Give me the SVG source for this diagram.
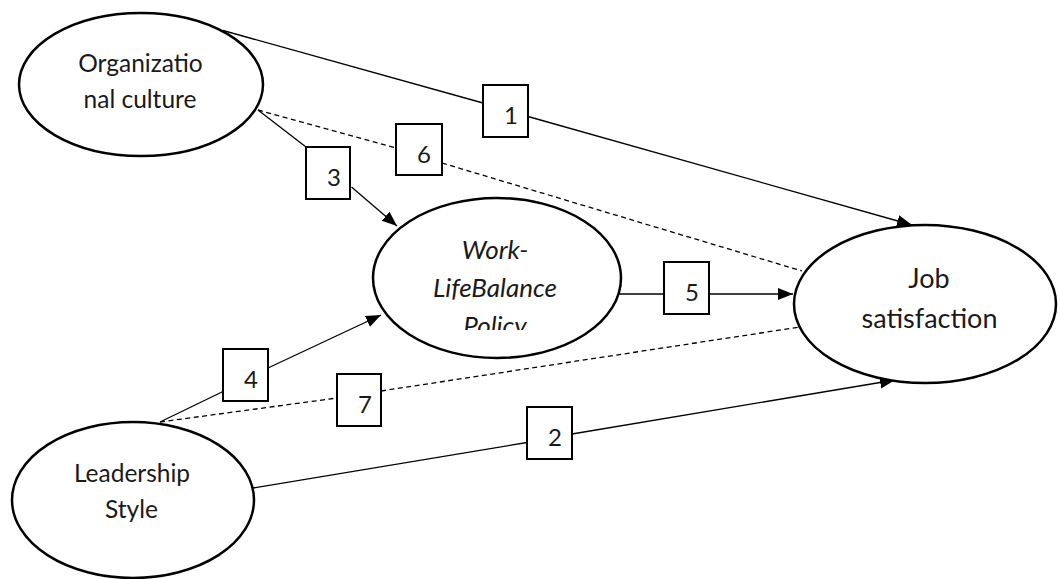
<svg xmlns="http://www.w3.org/2000/svg" width="1058" height="579" viewBox="0 0 1058 579">
<style>
.node{fill:#fff;stroke:#000;stroke-width:2.5}
.lbl{font-family:Lato,"Open Sans",sans-serif;font-size:24.5px;fill:#1a1a1a;text-anchor:middle}
.box{fill:#fff;stroke:#000;stroke-width:2}
.num{font-family:Lato,"Open Sans",sans-serif;font-size:24px;fill:#1a1a1a;text-anchor:middle}
.ln{stroke:#000;stroke-width:1.3;fill:none}
.dash{stroke:#000;stroke-width:1.3;fill:none;stroke-dasharray:5 3.5}
</style>
<defs>
<marker id="arr" markerUnits="userSpaceOnUse" markerWidth="16" markerHeight="14" refX="15" refY="6" orient="auto">
<path d="M0,0 L15,6 L0,12 Z" fill="#000"/>
</marker>
<clipPath id="wclip"><rect x="372" y="200" width="250" height="130"/></clipPath>
</defs>
<g id="connectors">
<line class="ln" x1="223" y1="30.5" x2="483" y2="103"/>
<line class="ln" x1="528" y1="116.5" x2="912" y2="225" marker-end="url(#arr)"/>
<line class="ln" x1="258" y1="110" x2="306" y2="147"/>
<line class="ln" x1="351.5" y1="187" x2="397" y2="226" marker-end="url(#arr)"/>
<line class="dash" x1="258" y1="110" x2="396" y2="148"/>
<line class="dash" x1="442" y1="163" x2="802" y2="271"/>
<line class="ln" x1="619" y1="294" x2="664" y2="294"/>
<line class="ln" x1="709" y1="294" x2="793" y2="294" marker-end="url(#arr)"/>
<line class="ln" x1="160" y1="422" x2="223" y2="391.5"/>
<line class="ln" x1="268" y1="368" x2="381" y2="315" marker-end="url(#arr)"/>
<line class="dash" x1="160" y1="422" x2="337" y2="398"/>
<line class="dash" x1="381" y1="391" x2="800" y2="327"/>
<line class="ln" x1="253" y1="488" x2="527" y2="442.5"/>
<line class="ln" x1="572" y1="434" x2="895" y2="380" marker-end="url(#arr)"/>
</g>
<g id="n-org">
<ellipse class="node" cx="141" cy="84.5" rx="122" ry="71.5"/>
<text class="lbl" x="140.5" y="72">Organizatio</text>
<text class="lbl" x="140" y="108">nal culture</text>
</g>
<g id="n-wlb">
<ellipse class="node" cx="497" cy="278" rx="124" ry="80"/>
<g clip-path="url(#wclip)">
<text class="lbl" x="495" y="259" font-style="italic" style="font-size:26px">Work-</text>
<text class="lbl" x="495" y="297" font-style="italic" style="font-size:26px">LifeBalance</text>
<text class="lbl" x="495" y="335" font-style="italic" style="font-size:26px">Policy</text>
</g>
</g>
<g id="n-job">
<ellipse class="node" cx="925" cy="304" rx="131" ry="79"/>
<text class="lbl" x="929" y="288" style="font-size:27px">Job</text>
<text class="lbl" x="929.5" y="328" style="font-size:27px">satisfaction</text>
</g>
<g id="n-lead">
<ellipse class="node" cx="133" cy="500" rx="121" ry="78"/>
<text class="lbl" x="132" y="482">Leadership</text>
<text class="lbl" x="131.5" y="518">Style</text>
</g>
<g id="b1"><rect class="box" x="483" y="85" width="45" height="52"/><text class="num" x="511" y="124">1</text></g>
<g id="b2"><rect class="box" x="527" y="407" width="45" height="52"/><text class="num" x="555" y="446">2</text></g>
<g id="b3"><rect class="box" x="306" y="147" width="44" height="52"/><text class="num" x="334" y="186">3</text></g>
<g id="b4"><rect class="box" x="223" y="349" width="45" height="52"/><text class="num" x="251" y="388">4</text></g>
<g id="b5"><rect class="box" x="664" y="262" width="45" height="52"/><text class="num" x="692" y="301">5</text></g>
<g id="b6"><rect class="box" x="396" y="124" width="46" height="51"/><text class="num" x="424" y="163">6</text></g>
<g id="b7"><rect class="box" x="337" y="374" width="44" height="52"/><text class="num" x="365" y="413">7</text></g>
</svg>
